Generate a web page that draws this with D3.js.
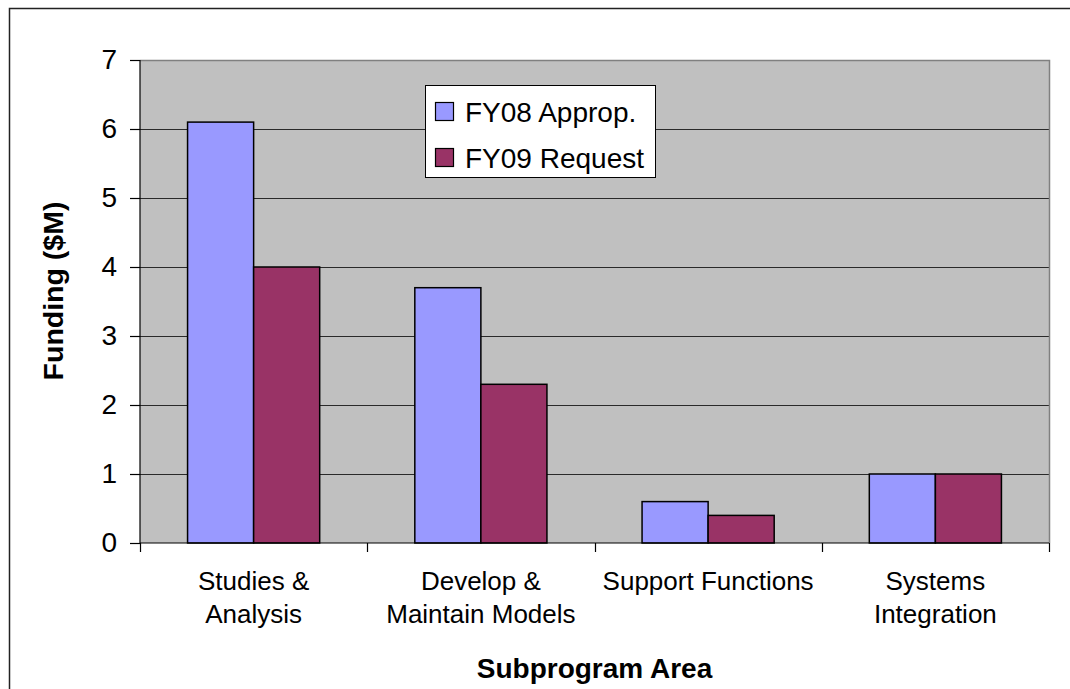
<!DOCTYPE html>
<html>
<head>
<meta charset="utf-8">
<script src="https://cdn.jsdelivr.net/npm/d3@7"></script>
<style>
  html, body { margin: 0; padding: 0; background: #fff; }
  svg { display: block; font-family: "Liberation Sans", Arial, sans-serif; }
</style>
</head>
<body>
<svg id="chart" width="1070" height="689"></svg>
<script>
const categories = ["Studies & Analysis", "Develop & Maintain Models", "Support Functions", "Systems Integration"];
const categoryLines = [["Studies &", "Analysis"], ["Develop &", "Maintain Models"], ["Support Functions"], ["Systems", "Integration"]];
const seriesNames = ["FY08 Approp.", "FY09 Request"];
const fy08 = [6.1, 3.7, 0.6, 1.0];
const fy09 = [4.0, 2.3, 0.4, 1.0];
const yTicks = [0, 1, 2, 3, 4, 5, 6, 7];
const colors = ["#9999FF", "#993366"];

const svg = d3.select("#chart");
const plot = { left: 140, right: 1049, top: 60, bottom: 543 };

// outer chart border (extends past the image on right/bottom)
svg.append("rect").attr("x", 9.5).attr("y", 8.5).attr("width", 1200).attr("height", 800)
  .attr("fill", "#fff").attr("stroke", "#222").attr("stroke-width", 1.5);

const x0 = d3.scaleBand().domain(categories).range([plot.left, plot.right]).paddingInner(0).paddingOuter(0);
const y = d3.scaleLinear().domain([0, 7]).range([plot.bottom, plot.top]);
const gapRatio = 1.44;
const barW = x0.bandwidth() / (2 + gapRatio);

// plot background
svg.append("rect").attr("x", plot.left).attr("y", plot.top)
  .attr("width", plot.right - plot.left).attr("height", plot.bottom - plot.top)
  .attr("fill", "#C0C0C0");

// gridlines
svg.append("g").selectAll("line").data(yTicks.filter(d => d > 0 && d < 7)).join("line")
  .attr("x1", plot.left).attr("x2", plot.right)
  .attr("y1", d => Math.round(y(d)) + 0.5).attr("y2", d => Math.round(y(d)) + 0.5)
  .attr("stroke", "#2a2a2a").attr("stroke-width", 1);

// plot border top & right (gray)
svg.append("path")
  .attr("d", `M${plot.left},${plot.top + 0.5}H${plot.right + 0.5}V${plot.bottom}`)
  .attr("fill", "none").attr("stroke", "#808080").attr("stroke-width", 1.5);

// bars
const data = categories.map((c, i) => ({ c, vals: [fy08[i], fy09[i]] }));
const groups = svg.append("g").selectAll("g").data(data).join("g");
groups.selectAll("rect").data(d => d.vals.map((v, j) => ({ c: d.c, v, j }))).join("rect")
  .attr("x", d => x0(d.c) + (x0.bandwidth() - 2 * barW) / 2 + d.j * barW)
  .attr("y", d => y(d.v))
  .attr("width", barW)
  .attr("height", d => y(0) - y(d.v))
  .attr("fill", d => colors[d.j])
  .attr("stroke", "#000").attr("stroke-width", 1.5);

// y axis
const yAxis = d3.axisLeft(y).tickValues(yTicks).tickSize(10).tickPadding(13).tickFormat(d3.format("d"));
const gy = svg.append("g").attr("transform", `translate(${plot.left},0)`).call(yAxis);
gy.selectAll(".domain").attr("stroke", "#000").attr("stroke-width", 1.2).attr("d", `M0,${plot.top}V${plot.bottom}`);
gy.selectAll(".tick line").attr("stroke", "#000").attr("stroke-width", 1.2);
gy.selectAll(".tick text").attr("font-size", 28).attr("fill", "#000")
  .attr("font-family", "Liberation Sans, Arial, sans-serif");

// x axis
const xAxis = d3.axisBottom(x0).tickSize(0).tickFormat("");
const gx = svg.append("g").attr("transform", `translate(0,${plot.bottom})`).call(xAxis);
gx.select(".domain").attr("stroke", "#000").attr("stroke-width", 1.2).attr("d", `M${plot.left},0H${plot.right}`);
// category boundary ticks
const boundaries = categories.map(c => x0(c)).concat([plot.right]);
gx.append("g").selectAll("line").data(boundaries).join("line")
  .attr("x1", d => Math.round(d) + 0.5).attr("x2", d => Math.round(d) + 0.5)
  .attr("y1", 0).attr("y2", 9).attr("stroke", "#000").attr("stroke-width", 1.2);

// category labels
const labels = svg.append("g").selectAll("text").data(categories).join("text")
  .attr("x", d => x0(d) + x0.bandwidth() / 2)
  .attr("y", 590)
  .attr("text-anchor", "middle").attr("font-size", 26).attr("fill", "#000");
labels.each(function (d, i) {
  const t = d3.select(this);
  categoryLines[i].forEach((ln, k) => {
    t.append("tspan").attr("x", x0(d) + x0.bandwidth() / 2).attr("dy", k === 0 ? 0 : 33).text(ln);
  });
});

// axis titles
svg.append("text").attr("x", (plot.left + plot.right) / 2).attr("y", 678)
  .attr("text-anchor", "middle").attr("font-size", 28).attr("font-weight", "bold")
  .text("Subprogram Area");
svg.append("text")
  .attr("transform", `translate(63,291) rotate(-90)`)
  .attr("text-anchor", "middle").attr("font-size", 28.5).attr("font-weight", "bold")
  .text("Funding ($M)");

// legend
const lg = svg.append("g");
lg.append("rect").attr("x", 425.5).attr("y", 85.5).attr("width", 230).attr("height", 92)
  .attr("fill", "#fff").attr("stroke", "#000").attr("stroke-width", 1);
const rows = lg.selectAll("g").data(seriesNames).join("g")
  .attr("transform", (d, i) => `translate(0,${111.5 + i * 46})`);
rows.append("rect").attr("x", 435.5).attr("y", -9).attr("width", 18).attr("height", 18)
  .attr("fill", (d, i) => colors[i]).attr("stroke", "#000").attr("stroke-width", 1.2);
rows.append("text").attr("x", 465).attr("y", 0).attr("dy", "0.36em")
  .attr("font-size", 28).attr("fill", "#000").text(d => d);
</script>
</body>
</html>
